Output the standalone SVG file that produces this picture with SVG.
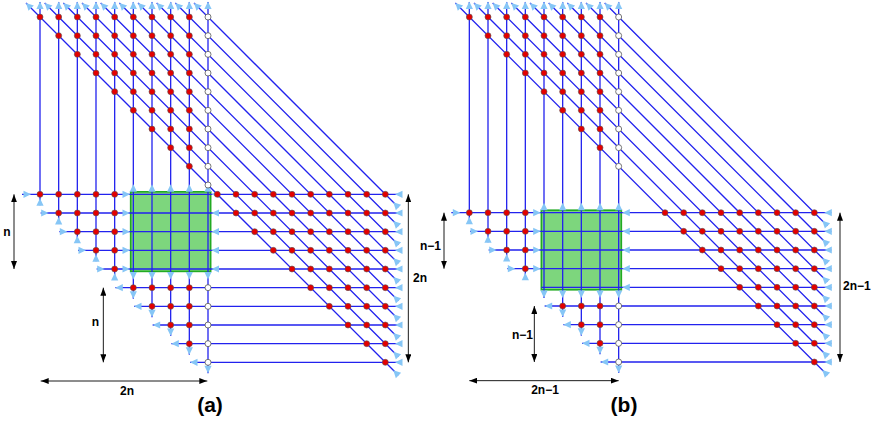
<svg xmlns="http://www.w3.org/2000/svg" xmlns:xlink="http://www.w3.org/1999/xlink" width="872" height="421" viewBox="0 0 872 421">
<style>
.ln{fill:none;stroke:#2222ee;stroke-width:1.3}
.ah{fill:#86c6f6}
.rn{fill:#e40000;stroke:#555;stroke-width:0.6}
.wn{fill:#fff;stroke:#555;stroke-width:0.8}
.box{fill:#7dd67d;stroke:#22aa22;stroke-width:1.6}
.dim{fill:none;stroke:#000;stroke-width:0.9;marker-start:url(#bk);marker-end:url(#bk)}
.lbl{font-family:"Liberation Sans",Arial,sans-serif;font-weight:bold;font-size:12px;fill:#000}
.cap{font-family:"Liberation Sans",Arial,sans-serif;font-weight:bold;font-size:21px;fill:#000;text-anchor:middle}
</style>
<defs>
<circle id="r" r="3" class="rn"/>
<circle id="w" r="3" class="wn"/>
<path id="aU" class="ah" d="M0,0L3.6,7.5L-3.6,7.5Z"/>
<path id="aD" class="ah" d="M0,0L3.6,-7.5L-3.6,-7.5Z"/>
<path id="aL" class="ah" d="M0,0L7.5,-3.6L7.5,3.6Z"/>
<path id="aR" class="ah" d="M0,0L-7.5,-3.6L-7.5,3.6Z"/>
<path id="aUL" class="ah" d="M0,0L7.8,2.5L2.5,7.8Z"/>
<marker id="bk" viewBox="0 0 8 6" refX="8" refY="3" markerWidth="8" markerHeight="6" markerUnits="userSpaceOnUse" orient="auto-start-reverse"><path d="M0,0L8,3L0,6Z" fill="#000"/></marker>
</defs>

<!-- Panel (a) -->
<g id="a-box"><rect class="box" x="130.67" y="191.8" width="80" height="79.6"/></g>
<g id="a-connectors">
<path class="ln" d="M40,2V205.33M58.67,2V224M77.33,2V242.67M96,2V261.33M114.67,2V280M133.33,2V298.67M152,2V317.33M170.67,2V336M189.33,2V354.67M208,2V373.33"/>
<path class="ln" d="M22,194.33H402M40.67,213H402M59.33,231.67H402M78,250.33H402M96.67,269H402M115.33,287.67H402M134,306.33H402M152.67,325H402M171.33,343.67H402M190,362.33H402"/>
<path class="ln" d="M26,3L398.33,375.33M44.67,3L398.33,356.67M63.33,3L398.33,338M82,3L398.33,319.33M100.67,3L398.33,300.67M119.33,3L398.33,282M138,3L398.33,263.33M156.67,3L398.33,244.67M175.33,3L398.33,226M194,3L398.33,207.33"/>
</g>
<g id="a-arrows">
<use href="#aU" x="40" y="1.5"/><use href="#aU" x="58.67" y="1.5"/><use href="#aU" x="77.33" y="1.5"/><use href="#aU" x="96" y="1.5"/><use href="#aU" x="114.67" y="1.5"/><use href="#aU" x="133.33" y="1.5"/><use href="#aU" x="152" y="1.5"/><use href="#aU" x="170.67" y="1.5"/><use href="#aU" x="189.33" y="1.5"/><use href="#aU" x="208" y="1.5"/>
<use href="#aUL" x="26" y="3"/><use href="#aUL" x="44.67" y="3"/><use href="#aUL" x="63.33" y="3"/><use href="#aUL" x="82" y="3"/><use href="#aUL" x="100.67" y="3"/><use href="#aUL" x="119.33" y="3"/><use href="#aUL" x="138" y="3"/><use href="#aUL" x="156.67" y="3"/><use href="#aUL" x="175.33" y="3"/><use href="#aUL" x="194" y="3"/>
<use href="#aR" x="31" y="194.33"/><use href="#aR" x="48.67" y="213"/><use href="#aR" x="67.33" y="231.67"/><use href="#aR" x="86" y="250.33"/><use href="#aR" x="104.67" y="269"/>
<use href="#aU" x="40" y="198.33"/><use href="#aU" x="58.67" y="217"/><use href="#aU" x="77.33" y="235.67"/><use href="#aU" x="96" y="254.33"/><use href="#aU" x="114.67" y="273"/>
<use href="#aR" x="130" y="194.33"/><use href="#aR" x="130" y="213"/><use href="#aR" x="130" y="231.67"/><use href="#aR" x="130" y="250.33"/><use href="#aR" x="130" y="269"/>
<use href="#aU" x="133.33" y="184.3"/><use href="#aU" x="152" y="184.3"/><use href="#aU" x="170.67" y="184.3"/><use href="#aU" x="189.33" y="184.3"/><use href="#aU" x="208" y="184.3"/>
<use href="#aL" x="211.5" y="194.33"/><use href="#aL" x="211.5" y="213"/><use href="#aL" x="211.5" y="231.67"/><use href="#aL" x="211.5" y="250.33"/><use href="#aL" x="211.5" y="269"/>
<use href="#aD" x="133.33" y="279.5"/><use href="#aD" x="152" y="279.5"/><use href="#aD" x="170.67" y="279.5"/><use href="#aD" x="189.33" y="279.5"/><use href="#aD" x="208" y="279.5"/>
<use href="#aL" x="115.33" y="287.67"/><use href="#aL" x="134" y="306.33"/><use href="#aL" x="152.67" y="325"/><use href="#aL" x="171.33" y="343.67"/><use href="#aL" x="190" y="362.33"/>
<use href="#aD" x="133.33" y="298.67"/><use href="#aD" x="152" y="317.33"/><use href="#aD" x="170.67" y="336"/><use href="#aD" x="189.33" y="354.67"/><use href="#aD" x="208" y="373.33"/>
<use href="#aL" x="395" y="194.33"/><use href="#aL" x="395" y="213"/><use href="#aL" x="395" y="231.67"/><use href="#aL" x="395" y="250.33"/><use href="#aL" x="395" y="269"/><use href="#aL" x="395" y="287.67"/><use href="#aL" x="395" y="306.33"/><use href="#aL" x="395" y="325"/><use href="#aL" x="395" y="343.67"/><use href="#aL" x="395" y="362.33"/>
<use href="#aUL" x="393.33" y="202.33"/><use href="#aUL" x="393.33" y="221"/><use href="#aUL" x="393.33" y="239.67"/><use href="#aUL" x="393.33" y="258.33"/><use href="#aUL" x="393.33" y="277"/><use href="#aUL" x="393.33" y="295.67"/><use href="#aUL" x="393.33" y="314.33"/><use href="#aUL" x="393.33" y="333"/><use href="#aUL" x="393.33" y="351.67"/><use href="#aUL" x="393.33" y="370.33"/>
</g>
<g id="a-nodes-top">
<g id="a-t0"><use href="#r" x="40" y="17"/><use href="#r" x="58.67" y="17"/><use href="#r" x="77.33" y="17"/><use href="#r" x="96" y="17"/><use href="#r" x="114.67" y="17"/><use href="#r" x="133.33" y="17"/><use href="#r" x="152" y="17"/><use href="#r" x="170.67" y="17"/><use href="#r" x="189.33" y="17"/><use href="#w" x="208" y="17"/></g>
<g id="a-t1"><use href="#r" x="58.67" y="35.67"/><use href="#r" x="77.33" y="35.67"/><use href="#r" x="96" y="35.67"/><use href="#r" x="114.67" y="35.67"/><use href="#r" x="133.33" y="35.67"/><use href="#r" x="152" y="35.67"/><use href="#r" x="170.67" y="35.67"/><use href="#r" x="189.33" y="35.67"/><use href="#w" x="208" y="35.67"/></g>
<g id="a-t2"><use href="#r" x="77.33" y="54.33"/><use href="#r" x="96" y="54.33"/><use href="#r" x="114.67" y="54.33"/><use href="#r" x="133.33" y="54.33"/><use href="#r" x="152" y="54.33"/><use href="#r" x="170.67" y="54.33"/><use href="#r" x="189.33" y="54.33"/><use href="#w" x="208" y="54.33"/></g>
<g id="a-t3"><use href="#r" x="96" y="73"/><use href="#r" x="114.67" y="73"/><use href="#r" x="133.33" y="73"/><use href="#r" x="152" y="73"/><use href="#r" x="170.67" y="73"/><use href="#r" x="189.33" y="73"/><use href="#w" x="208" y="73"/></g>
<g id="a-t4"><use href="#r" x="114.67" y="91.67"/><use href="#r" x="133.33" y="91.67"/><use href="#r" x="152" y="91.67"/><use href="#r" x="170.67" y="91.67"/><use href="#r" x="189.33" y="91.67"/><use href="#w" x="208" y="91.67"/></g>
<g id="a-t5"><use href="#r" x="133.33" y="110.33"/><use href="#r" x="152" y="110.33"/><use href="#r" x="170.67" y="110.33"/><use href="#r" x="189.33" y="110.33"/><use href="#w" x="208" y="110.33"/></g>
<g id="a-t6"><use href="#r" x="152" y="129"/><use href="#r" x="170.67" y="129"/><use href="#r" x="189.33" y="129"/><use href="#w" x="208" y="129"/></g>
<g id="a-t7"><use href="#r" x="170.67" y="147.67"/><use href="#r" x="189.33" y="147.67"/><use href="#w" x="208" y="147.67"/></g>
<g id="a-t8"><use href="#r" x="189.33" y="166.33"/><use href="#w" x="208" y="166.33"/></g>
<g id="a-t9"><use href="#w" x="208" y="185"/></g>
</g>
<g id="a-nodes-left">
<g id="a-l0"><use href="#r" x="40" y="194.33"/><use href="#r" x="58.67" y="194.33"/><use href="#r" x="77.33" y="194.33"/><use href="#r" x="96" y="194.33"/><use href="#r" x="114.67" y="194.33"/></g>
<g id="a-l1"><use href="#r" x="58.67" y="213"/><use href="#r" x="77.33" y="213"/><use href="#r" x="96" y="213"/><use href="#r" x="114.67" y="213"/></g>
<g id="a-l2"><use href="#r" x="77.33" y="231.67"/><use href="#r" x="96" y="231.67"/><use href="#r" x="114.67" y="231.67"/></g>
<g id="a-l3"><use href="#r" x="96" y="250.33"/><use href="#r" x="114.67" y="250.33"/></g>
<g id="a-l4"><use href="#r" x="114.67" y="269"/></g>
<g id="a-l5"><use href="#r" x="133.33" y="287.67"/><use href="#r" x="152" y="287.67"/><use href="#r" x="170.67" y="287.67"/><use href="#r" x="189.33" y="287.67"/><use href="#w" x="208" y="287.67"/></g>
<g id="a-l6"><use href="#r" x="152" y="306.33"/><use href="#r" x="170.67" y="306.33"/><use href="#r" x="189.33" y="306.33"/><use href="#w" x="208" y="306.33"/></g>
<g id="a-l7"><use href="#r" x="170.67" y="325"/><use href="#r" x="189.33" y="325"/><use href="#w" x="208" y="325"/></g>
<g id="a-l8"><use href="#r" x="189.33" y="343.67"/><use href="#w" x="208" y="343.67"/></g>
<g id="a-l9"><use href="#w" x="208" y="362.33"/></g>
</g>
<g id="a-nodes-right">
<g id="a-r0"><use href="#r" x="217.33" y="194.33"/><use href="#r" x="236" y="194.33"/><use href="#r" x="254.67" y="194.33"/><use href="#r" x="273.33" y="194.33"/><use href="#r" x="292" y="194.33"/><use href="#r" x="310.67" y="194.33"/><use href="#r" x="329.33" y="194.33"/><use href="#r" x="348" y="194.33"/><use href="#r" x="366.67" y="194.33"/><use href="#r" x="385.33" y="194.33"/></g>
<g id="a-r1"><use href="#r" x="236" y="213"/><use href="#r" x="254.67" y="213"/><use href="#r" x="273.33" y="213"/><use href="#r" x="292" y="213"/><use href="#r" x="310.67" y="213"/><use href="#r" x="329.33" y="213"/><use href="#r" x="348" y="213"/><use href="#r" x="366.67" y="213"/><use href="#r" x="385.33" y="213"/></g>
<g id="a-r2"><use href="#r" x="254.67" y="231.67"/><use href="#r" x="273.33" y="231.67"/><use href="#r" x="292" y="231.67"/><use href="#r" x="310.67" y="231.67"/><use href="#r" x="329.33" y="231.67"/><use href="#r" x="348" y="231.67"/><use href="#r" x="366.67" y="231.67"/><use href="#r" x="385.33" y="231.67"/></g>
<g id="a-r3"><use href="#r" x="273.33" y="250.33"/><use href="#r" x="292" y="250.33"/><use href="#r" x="310.67" y="250.33"/><use href="#r" x="329.33" y="250.33"/><use href="#r" x="348" y="250.33"/><use href="#r" x="366.67" y="250.33"/><use href="#r" x="385.33" y="250.33"/></g>
<g id="a-r4"><use href="#r" x="292" y="269"/><use href="#r" x="310.67" y="269"/><use href="#r" x="329.33" y="269"/><use href="#r" x="348" y="269"/><use href="#r" x="366.67" y="269"/><use href="#r" x="385.33" y="269"/></g>
<g id="a-r5"><use href="#r" x="310.67" y="287.67"/><use href="#r" x="329.33" y="287.67"/><use href="#r" x="348" y="287.67"/><use href="#r" x="366.67" y="287.67"/><use href="#r" x="385.33" y="287.67"/></g>
<g id="a-r6"><use href="#r" x="329.33" y="306.33"/><use href="#r" x="348" y="306.33"/><use href="#r" x="366.67" y="306.33"/><use href="#r" x="385.33" y="306.33"/></g>
<g id="a-r7"><use href="#r" x="348" y="325"/><use href="#r" x="366.67" y="325"/><use href="#r" x="385.33" y="325"/></g>
<g id="a-r8"><use href="#r" x="366.67" y="343.67"/><use href="#r" x="385.33" y="343.67"/></g>
<g id="a-r9"><use href="#r" x="385.33" y="362.33"/></g>
</g>
<g id="a-dims">
<path class="dim" d="M14,194.33V269"/>
<path class="dim" d="M103.33,287.67V362.33"/>
<path class="dim" d="M40.67,381H207.33"/>
<path class="dim" d="M408.33,194.33V362.33"/>
<text class="lbl" x="7" y="236" text-anchor="middle">n</text>
<text class="lbl" x="95.5" y="325.5" text-anchor="middle">n</text>
<text class="lbl" x="127" y="395" text-anchor="middle">2n</text>
<text class="lbl" x="413" y="282">2n</text>
<text class="cap" x="210" y="412">(a)</text>
</g>

<!-- Panel (b) -->
<g id="b-box"><rect class="box" x="541.33" y="210.2" width="80" height="79.6"/></g>
<g id="b-connectors">
<path class="ln" d="M469.33,2V223.67M488,2V242.33M506.67,2V261M525.33,2V279.67M544,2V298M562.67,2V317M581.33,2V335.67M600,2V354.33M618.67,2V373"/>
<path class="ln" d="M451.33,212.67H831.33M470,231.33H831.33M488.67,250H831.33M507.33,268.67H831.33M541.33,287.33H831.33M544.67,306H831.33M563.33,324.67H831.33M582,343.33H831.33M600.67,362H831.33"/>
<path class="ln" d="M455.33,3L827.33,375M474,3L827.33,356.33M492.67,3L827.33,337.67M511.33,3L827.33,319M530,3L827.33,300.33M548.67,3L827.33,281.67M567.33,3L827.33,263M586,3L827.33,244.33M604.67,3L827.33,225.67"/>
</g>
<g id="b-arrows">
<use href="#aU" x="469.33" y="1.5"/><use href="#aU" x="488" y="1.5"/><use href="#aU" x="506.67" y="1.5"/><use href="#aU" x="525.33" y="1.5"/><use href="#aU" x="544" y="1.5"/><use href="#aU" x="562.67" y="1.5"/><use href="#aU" x="581.33" y="1.5"/><use href="#aU" x="600" y="1.5"/><use href="#aU" x="618.67" y="1.5"/>
<use href="#aUL" x="455.33" y="3"/><use href="#aUL" x="474" y="3"/><use href="#aUL" x="492.67" y="3"/><use href="#aUL" x="511.33" y="3"/><use href="#aUL" x="530" y="3"/><use href="#aUL" x="548.67" y="3"/><use href="#aUL" x="567.33" y="3"/><use href="#aUL" x="586" y="3"/><use href="#aUL" x="604.67" y="3"/>
<use href="#aR" x="460.33" y="212.67"/><use href="#aR" x="478" y="231.33"/><use href="#aR" x="496.67" y="250"/><use href="#aR" x="515.33" y="268.67"/>
<use href="#aU" x="469.33" y="216.67"/><use href="#aU" x="488" y="235.33"/><use href="#aU" x="506.67" y="254"/><use href="#aU" x="525.33" y="272.67"/>
<use href="#aR" x="540.67" y="212.67"/><use href="#aR" x="540.67" y="231.33"/><use href="#aR" x="540.67" y="250"/><use href="#aR" x="540.67" y="268.67"/>
<use href="#aU" x="544" y="202.7"/><use href="#aU" x="562.67" y="202.7"/><use href="#aU" x="581.33" y="202.7"/><use href="#aU" x="600" y="202.7"/><use href="#aU" x="618.67" y="202.7"/>
<use href="#aL" x="622.3" y="212.67"/><use href="#aL" x="622.3" y="231.33"/><use href="#aL" x="622.3" y="250"/><use href="#aL" x="622.3" y="268.67"/><use href="#aL" x="622.3" y="287.33"/>
<use href="#aD" x="544" y="298"/><use href="#aD" x="562.67" y="298"/><use href="#aD" x="581.33" y="298"/><use href="#aD" x="600" y="298"/><use href="#aD" x="618.67" y="298"/>
<use href="#aL" x="544.67" y="306"/><use href="#aL" x="563.33" y="324.67"/><use href="#aL" x="582" y="343.33"/><use href="#aL" x="600.67" y="362"/>
<use href="#aD" x="562.67" y="317"/><use href="#aD" x="581.33" y="335.67"/><use href="#aD" x="600" y="354.33"/><use href="#aD" x="618.67" y="373"/>
<use href="#aL" x="824.33" y="212.67"/><use href="#aL" x="824.33" y="231.33"/><use href="#aL" x="824.33" y="250"/><use href="#aL" x="824.33" y="268.67"/><use href="#aL" x="824.33" y="287.33"/><use href="#aL" x="824.33" y="306"/><use href="#aL" x="824.33" y="324.67"/><use href="#aL" x="824.33" y="343.33"/><use href="#aL" x="824.33" y="362"/>
<use href="#aUL" x="822.33" y="220.67"/><use href="#aUL" x="822.33" y="239.33"/><use href="#aUL" x="822.33" y="258"/><use href="#aUL" x="822.33" y="276.67"/><use href="#aUL" x="822.33" y="295.33"/><use href="#aUL" x="822.33" y="314"/><use href="#aUL" x="822.33" y="332.67"/><use href="#aUL" x="822.33" y="351.33"/><use href="#aUL" x="822.33" y="370"/>
</g>
<g id="b-nodes-top">
<g id="b-t0"><use href="#r" x="469.33" y="17"/><use href="#r" x="488" y="17"/><use href="#r" x="506.67" y="17"/><use href="#r" x="525.33" y="17"/><use href="#r" x="544" y="17"/><use href="#r" x="562.67" y="17"/><use href="#r" x="581.33" y="17"/><use href="#r" x="600" y="17"/><use href="#w" x="618.67" y="17"/></g>
<g id="b-t1"><use href="#r" x="488" y="35.67"/><use href="#r" x="506.67" y="35.67"/><use href="#r" x="525.33" y="35.67"/><use href="#r" x="544" y="35.67"/><use href="#r" x="562.67" y="35.67"/><use href="#r" x="581.33" y="35.67"/><use href="#r" x="600" y="35.67"/><use href="#w" x="618.67" y="35.67"/></g>
<g id="b-t2"><use href="#r" x="506.67" y="54.33"/><use href="#r" x="525.33" y="54.33"/><use href="#r" x="544" y="54.33"/><use href="#r" x="562.67" y="54.33"/><use href="#r" x="581.33" y="54.33"/><use href="#r" x="600" y="54.33"/><use href="#w" x="618.67" y="54.33"/></g>
<g id="b-t3"><use href="#r" x="525.33" y="73"/><use href="#r" x="544" y="73"/><use href="#r" x="562.67" y="73"/><use href="#r" x="581.33" y="73"/><use href="#r" x="600" y="73"/><use href="#w" x="618.67" y="73"/></g>
<g id="b-t4"><use href="#r" x="544" y="91.67"/><use href="#r" x="562.67" y="91.67"/><use href="#r" x="581.33" y="91.67"/><use href="#r" x="600" y="91.67"/><use href="#w" x="618.67" y="91.67"/></g>
<g id="b-t5"><use href="#r" x="562.67" y="110.33"/><use href="#r" x="581.33" y="110.33"/><use href="#r" x="600" y="110.33"/><use href="#w" x="618.67" y="110.33"/></g>
<g id="b-t6"><use href="#r" x="581.33" y="129"/><use href="#r" x="600" y="129"/><use href="#w" x="618.67" y="129"/></g>
<g id="b-t7"><use href="#r" x="600" y="147.67"/><use href="#w" x="618.67" y="147.67"/></g>
<g id="b-t8"><use href="#w" x="618.67" y="166.33"/></g>
</g>
<g id="b-nodes-left">
<g id="b-l0"><use href="#r" x="469.33" y="212.67"/><use href="#r" x="488" y="212.67"/><use href="#r" x="506.67" y="212.67"/><use href="#r" x="525.33" y="212.67"/></g>
<g id="b-l1"><use href="#r" x="488" y="231.33"/><use href="#r" x="506.67" y="231.33"/><use href="#r" x="525.33" y="231.33"/></g>
<g id="b-l2"><use href="#r" x="506.67" y="250"/><use href="#r" x="525.33" y="250"/></g>
<g id="b-l3"><use href="#r" x="525.33" y="268.67"/></g>
<g id="b-l5"><use href="#r" x="562.67" y="306"/><use href="#r" x="581.33" y="306"/><use href="#r" x="600" y="306"/><use href="#w" x="618.67" y="306"/></g>
<g id="b-l6"><use href="#r" x="581.33" y="324.67"/><use href="#r" x="600" y="324.67"/><use href="#w" x="618.67" y="324.67"/></g>
<g id="b-l7"><use href="#r" x="600" y="343.33"/><use href="#w" x="618.67" y="343.33"/></g>
<g id="b-l8"><use href="#w" x="618.67" y="362"/></g>
</g>
<g id="b-nodes-right">
<g id="b-r0"><use href="#r" x="665" y="212.67"/><use href="#r" x="683.67" y="212.67"/><use href="#r" x="702.33" y="212.67"/><use href="#r" x="721" y="212.67"/><use href="#r" x="739.67" y="212.67"/><use href="#r" x="758.33" y="212.67"/><use href="#r" x="777" y="212.67"/><use href="#r" x="795.67" y="212.67"/><use href="#r" x="814.33" y="212.67"/></g>
<g id="b-r1"><use href="#r" x="683.67" y="231.33"/><use href="#r" x="702.33" y="231.33"/><use href="#r" x="721" y="231.33"/><use href="#r" x="739.67" y="231.33"/><use href="#r" x="758.33" y="231.33"/><use href="#r" x="777" y="231.33"/><use href="#r" x="795.67" y="231.33"/><use href="#r" x="814.33" y="231.33"/></g>
<g id="b-r2"><use href="#r" x="702.33" y="250"/><use href="#r" x="721" y="250"/><use href="#r" x="739.67" y="250"/><use href="#r" x="758.33" y="250"/><use href="#r" x="777" y="250"/><use href="#r" x="795.67" y="250"/><use href="#r" x="814.33" y="250"/></g>
<g id="b-r3"><use href="#r" x="721" y="268.67"/><use href="#r" x="739.67" y="268.67"/><use href="#r" x="758.33" y="268.67"/><use href="#r" x="777" y="268.67"/><use href="#r" x="795.67" y="268.67"/><use href="#r" x="814.33" y="268.67"/></g>
<g id="b-r4"><use href="#r" x="739.67" y="287.33"/><use href="#r" x="758.33" y="287.33"/><use href="#r" x="777" y="287.33"/><use href="#r" x="795.67" y="287.33"/><use href="#r" x="814.33" y="287.33"/></g>
<g id="b-r5"><use href="#r" x="758.33" y="306"/><use href="#r" x="777" y="306"/><use href="#r" x="795.67" y="306"/><use href="#r" x="814.33" y="306"/></g>
<g id="b-r6"><use href="#r" x="777" y="324.67"/><use href="#r" x="795.67" y="324.67"/><use href="#r" x="814.33" y="324.67"/></g>
<g id="b-r7"><use href="#r" x="795.67" y="343.33"/><use href="#r" x="814.33" y="343.33"/></g>
<g id="b-r8"><use href="#r" x="814.33" y="362"/></g>
</g>
<g id="b-dims">
<path class="dim" d="M444,212.67V268.67"/>
<path class="dim" d="M534.33,306V362"/>
<path class="dim" d="M469.33,380.67H618.67"/>
<path class="dim" d="M840,212.67V362"/>
<text class="lbl" x="441" y="250" text-anchor="end">n−1</text>
<text class="lbl" x="533" y="338.5" text-anchor="end">n−1</text>
<text class="lbl" x="545" y="394" text-anchor="middle">2n−1</text>
<text class="lbl" x="843" y="290">2n−1</text>
<text class="cap" x="624" y="412">(b)</text>
</g>
</svg>
